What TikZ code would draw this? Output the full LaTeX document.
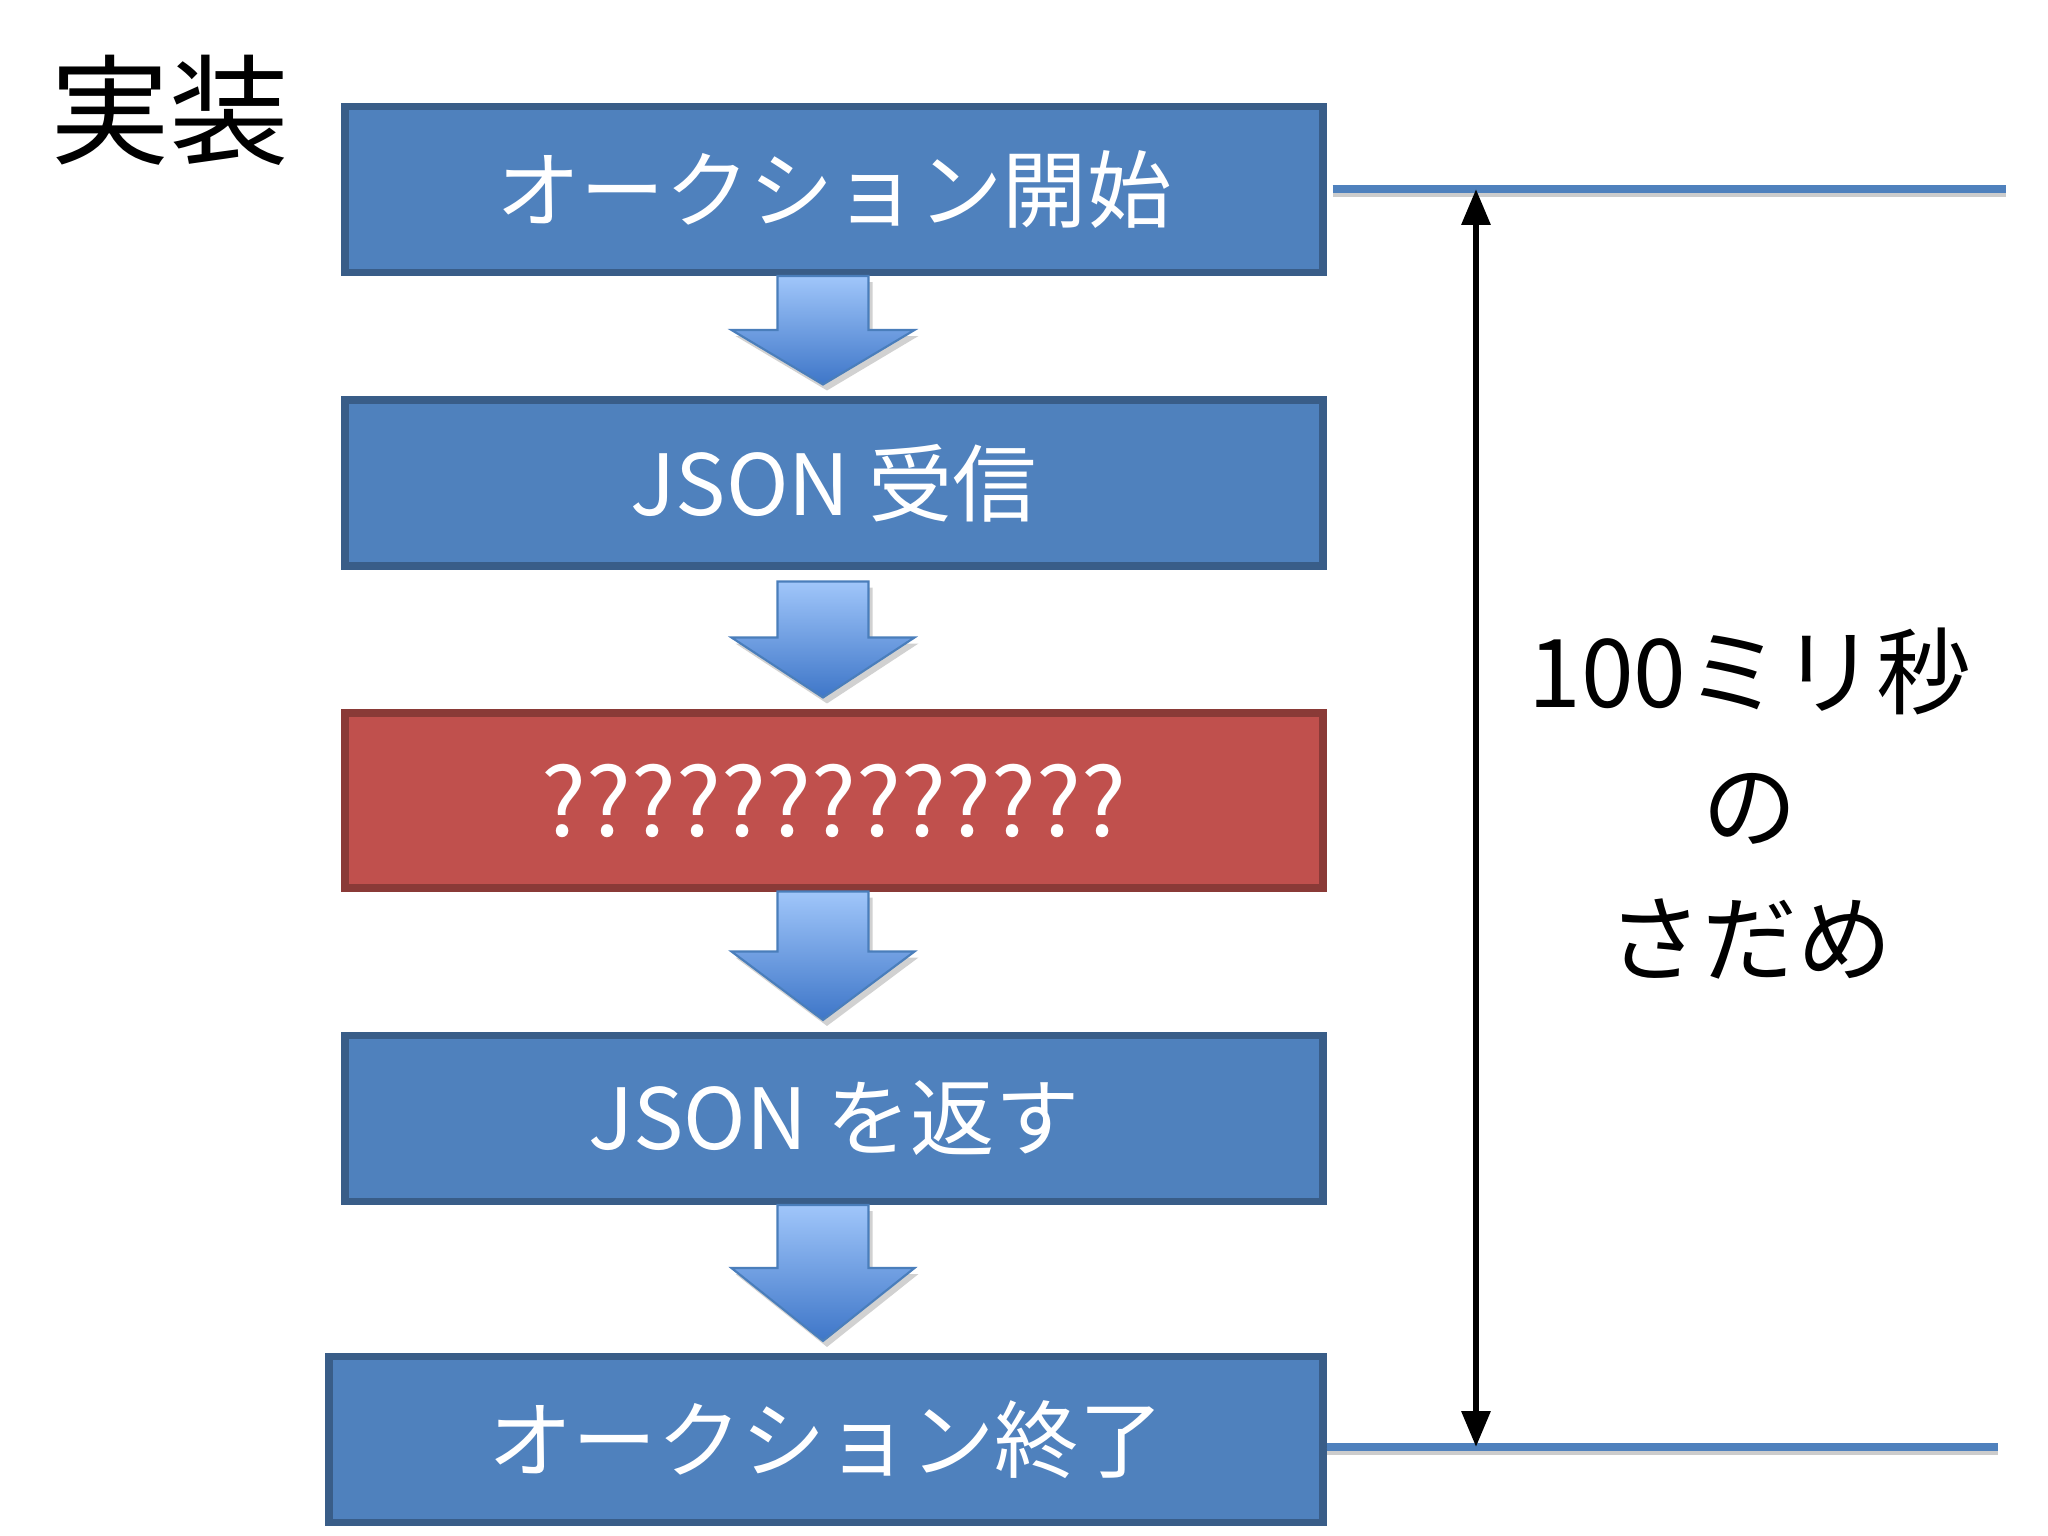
\documentclass[tikz,border=0pt]{standalone}
\usepackage{fontspec}
\setmainfont{Noto Sans CJK JP}
\usetikzlibrary{arrows.meta, calc, shadows}
\definecolor{BB}{RGB}{79,129,189}
\definecolor{BR}{RGB}{192,80,77}
\definecolor{AT}{RGB}{160,198,250}
\definecolor{AB}{RGB}{62,118,200}
\definecolor{AE}{RGB}{74,126,187}

% block arrow from one box down to the next: from, to, gap, shaft length
\newcommand{\blockarrow}[4]{%
  \filldraw[barr] ($(#1.south)+(-0.565,#3)$) -- ($(#1.south)+(-0.565,#4)$)
    -- ($(#1.south)+(-1.025,#4)$) -- ($(#1.south |- #2.north)+(-0.11,-0.12)$)
    -- ($(#1.south)+(0.805,#4)$) -- ($(#1.south)+(0.345,#4)$)
    -- ($(#1.south)+(0.345,#3)$) -- cycle;}

\begin{document}
\begin{tikzpicture}[x=1cm, y=-1cm,
  stepbox/.style={fill=#1, draw=#1!72!black, line width=2pt,
                  minimum width=9.78cm, minimum height=1.66cm,
                  inner sep=0pt, text=white, font=\fontsize{24}{28}\selectfont},
  barr/.style={top color=AT, bottom color=AB, draw=AE, line width=0.6pt,
               drop shadow={shadow xshift=0.4mm, shadow yshift=-0.6mm,
                            opacity=0.18, fill=black}},
  hline/.style={draw=BB, line width=2pt,
                preaction={draw=black!20, line width=2pt,
                           transform canvas={yshift=-1.4pt}}},
  dim/.style={{Triangle[length=3.6mm,width=2.8mm]}-{Triangle[length=3.6mm,width=2.8mm]},
              line width=1.8pt, draw=black}
]
\useasboundingbox[fill=white] (0,0) rectangle (20.48,15.36);

% Title
\node[font=\fontsize{34}{40}\selectfont] (title) at (1.70,1.10) {実装};

% Steps
\node[stepbox=BB] (start) at (8.34,1.895)  {オークション開始};
\node[stepbox=BB] (recv)  at (8.34,4.83)   {JSON 受信};
\node[stepbox=BR, minimum height=1.75cm, font=\fontsize{27}{30}\selectfont]
  (todo) at (8.34,8.005) {?????????????};
\node[stepbox=BB] (reply) at (8.34,11.185) {JSON を返す};
\node[stepbox=BB, minimum width=9.94cm] (finish) at (8.26,14.395) {オークション終了};

% Flow arrows
\blockarrow{start}{recv}{0}{0.54}
\blockarrow{recv}{todo}{0.12}{0.68}
\blockarrow{todo}{reply}{0}{0.60}
\blockarrow{reply}{finish}{0}{0.63}

% Time limit
\coordinate (topend) at (20.06,1.89);
\coordinate (botend) at (19.98,14.47);
\coordinate (ttop) at (14.76,1.89);
\coordinate (tbot) at (14.76,14.47);
\draw[hline] ([xshift=0.6mm]start.east |- topend) -- (topend);
\draw[hline] (finish.east |- botend) -- (botend);
\draw[dim] (tbot) -- (ttop);

\node[align=center, font=\fontsize{27}{38}\selectfont] (limit) at (17.50,8.04)
  {100ミリ秒\\の\\さだめ};
\end{tikzpicture}
\end{document}
